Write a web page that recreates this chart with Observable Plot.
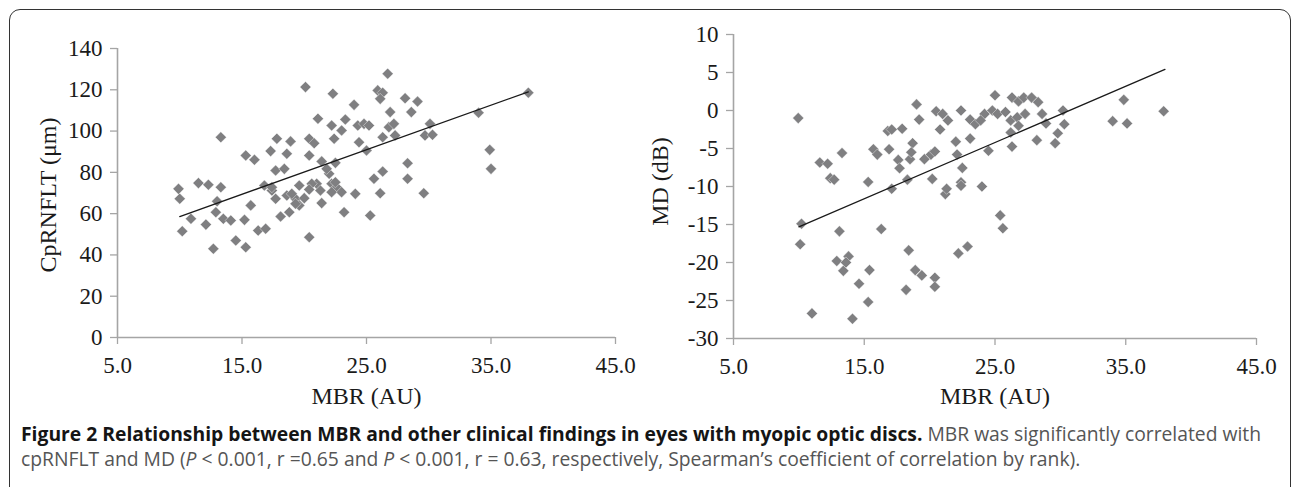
<!DOCTYPE html>
<html><head><meta charset="utf-8">
<script src="https://cdn.jsdelivr.net/npm/d3@7"></script>
<script src="https://cdn.jsdelivr.net/npm/@observablehq/plot@0.6"></script>
<style>
html,body{margin:0;padding:0;background:#fff;}
#wrap{position:relative;width:1292px;height:487px;overflow:hidden;background:#fff;}
#frame{position:absolute;left:9px;top:9px;width:1282px;height:540px;border:1.6px solid #333;border-radius:11px;box-sizing:border-box;}
.chart{position:absolute;top:0;}
#left{left:0;} #right{left:640px;}
.cap{position:absolute;left:21px;white-space:nowrap;font-family:"Liberation Sans Narrow","Open Sans",sans-serif;color:#555;line-height:20px;}
.cap b{color:#151515;font-weight:700;}
#cap1{top:424px;} #cap2{top:449px;}
</style></head>
<body><div id="wrap"><div id="frame"></div><div id="left" class="chart"></div><div id="right" class="chart"></div>
<div id="cap1" class="cap"><b>Figure 2 Relationship between MBR and other clinical findings in eyes with myopic optic discs.</b> MBR was significantly correlated with</div>
<div id="cap2" class="cap">cpRNFLT and MD (<i>P</i> &lt; 0.001, r =0.65 and <i>P</i> &lt; 0.001, r = 0.63, respectively, Spearman’s coefficient of correlation by rank).</div>
</div>
<script>
// MBR (AU) vs CpRNFLT (µm)
const leftPoints = [[9.9,72.0],[10.0,67.2],[10.2,51.5],[10.9,57.5],[11.5,74.8],[12.3,74.0],[13.3,72.8],[12.1,54.7],[12.7,43.0],[13.0,66.0],[12.9,60.7],[13.3,97.0],[13.5,57.5],[14.1,56.7],[14.5,47.0],[15.3,43.7],[15.2,57.0],[15.7,64.0],[15.3,88.2],[16.0,86.1],[16.3,51.8],[16.9,52.7],[16.8,73.6],[17.3,90.3],[17.8,96.3],[17.4,71.2],[17.7,67.2],[17.7,80.9],[18.4,81.7],[18.1,58.6],[18.8,60.7],[18.6,89.0],[18.9,95.0],[18.6,68.8],[19.3,67.2],[19.6,73.6],[19.6,64.0],[20.1,121.3],[20.4,96.3],[20.8,94.1],[20.4,88.2],[20.0,67.5],[20.4,48.6],[21.1,106.0],[21.0,74.5],[21.4,85.3],[21.3,71.2],[21.4,65.1],[22.0,79.3],[22.3,118.1],[22.2,102.7],[22.4,96.3],[22.5,84.6],[22.2,74.5],[22.6,72.8],[23.0,70.4],[23.2,60.7],[23.3,105.6],[23.0,100.3],[24.0,112.7],[24.1,69.6],[24.3,102.7],[24.4,94.6],[24.8,103.5],[25.2,102.7],[25.0,90.6],[25.3,59.1],[25.6,76.9],[26.3,80.4],[26.1,69.9],[25.9,119.7],[26.3,118.6],[26.1,115.6],[26.7,127.8],[26.3,97.0],[26.8,101.9],[26.9,109.2],[27.2,103.5],[27.3,97.9],[28.1,115.9],[28.6,109.2],[29.1,114.3],[28.3,84.4],[28.3,76.9],[29.6,69.9],[29.7,97.9],[30.1,103.5],[30.3,98.2],[34.0,108.9],[34.9,90.9],[35.0,81.7],[38.0,118.6],[21.8,81.7],[22.5,75.2],[20.6,74.5],[20.4,71.7],[19.0,69.6],[19.3,64.8],[17.4,72.8],[22.2,70.4]];
const leftTrend = [[10.0,58.6],[38.0,119.0]];

// MBR (AU) vs MD (dB)
const rightPoints = [[9.95,-1.0],[10.2,-14.9],[10.1,-17.6],[11.0,-26.7],[11.6,-6.85],[12.2,-7.0],[12.4,-8.9],[12.7,-9.1],[13.3,-5.6],[13.1,-15.9],[12.9,-19.8],[13.4,-21.1],[13.8,-19.2],[13.6,-20.0],[14.1,-27.4],[14.6,-22.8],[15.3,-25.2],[15.4,-21.0],[15.3,-9.4],[15.7,-5.1],[16.0,-5.8],[16.3,-15.6],[16.9,-5.1],[16.8,-2.7],[17.1,-2.5],[17.6,-6.5],[17.7,-7.6],[17.9,-2.4],[17.1,-10.3],[18.4,-18.4],[18.2,-23.6],[18.3,-9.1],[19.0,0.8],[19.2,-1.2],[18.7,-4.3],[18.5,-6.4],[18.9,-21.0],[19.4,-21.7],[19.6,-6.4],[20.1,-5.8],[20.4,-5.4],[20.2,-9.0],[20.4,-22.0],[20.4,-23.2],[20.5,-0.1],[21.0,-0.45],[21.4,-1.3],[20.8,-2.5],[21.2,-11.0],[21.3,-10.3],[22.4,0.0],[22.0,-4.1],[22.1,-5.8],[22.4,-9.45],[22.5,-7.55],[22.4,-9.9],[22.2,-18.8],[22.9,-17.9],[23.1,-1.2],[23.1,-3.7],[23.5,-1.8],[24.0,-10.0],[24.2,-0.45],[24.5,-5.3],[24.8,0.0],[25.0,2.0],[25.2,-0.45],[25.4,-13.8],[25.6,-15.5],[25.8,-0.2],[26.2,-1.3],[26.2,-2.9],[26.3,-4.75],[26.3,1.7],[26.8,1.2],[27.2,1.7],[26.7,-0.9],[27.3,-0.45],[26.8,-2.0],[27.8,1.7],[28.3,1.1],[28.2,-3.9],[28.6,-0.45],[28.9,-1.7],[29.6,-4.3],[29.8,-3.0],[30.2,0.0],[30.3,-1.8],[34.0,-1.4],[34.85,1.4],[35.1,-1.7],[37.9,-0.1],[23.9,-1.3],[18.6,-5.5]];
const rightTrend = [[10.0,-15.3],[38.0,5.4]];

const xTicks = [5, 15, 25, 35, 45];
const leftYTicks = [0, 20, 40, 60, 80, 100, 120, 140];
const rightYTicks = [-30, -25, -20, -15, -10, -5, 0, 5, 10];
const xTitle = "MBR (AU)";
const leftYTitle = "CpRNFLT (μm)";
const rightYTitle = "MD (dB)";

const axisGray = "#a5a5a5";
const ink = "#1a1a1a";

function scatter(points, trend, o) {
  return Plot.plot({
    width: o.width, height: 420,
    marginLeft: o.ml, marginRight: o.mr, marginTop: o.mt, marginBottom: o.mb,
    x: {domain: [5, 45]},
    y: {domain: o.yDomain},
    style: {fontFamily: "Liberation Serif", fontSize: "23px", color: ink, background: "transparent", overflow: "visible"},
    marks: [
      Plot.ruleY([o.yDomain[0]], {stroke: axisGray, strokeWidth: 1.6}),
      Plot.ruleX([5], {stroke: axisGray, strokeWidth: 1.6}),
      Plot.axisX({ticks: xTicks, tickFormat: d3.format(".1f"), tickSize: 7, tickPadding: 12, stroke: axisGray, strokeWidth: 1.3, fill: ink, fontSize: 23, label: null}),
      Plot.axisY({ticks: o.yTicks, tickFormat: d => String(d), tickSize: 7, tickPadding: 8, stroke: axisGray, strokeWidth: 1.3, fill: ink, fontSize: 23, label: null}),
      Plot.dot(points, {x: d => d[0], y: d => d[1], symbol: "diamond2", r: 5, fill: "#7f7f81", stroke: "white", strokeWidth: 0.4}),
      Plot.line(trend, {x: d => d[0], y: d => d[1], stroke: ink, strokeWidth: 1.3}),
      Plot.text([xTitle], {text: d => d, frameAnchor: "bottom", textAnchor: "middle", dy: o.xtDy, fontSize: 24, fill: ink}),
      Plot.text([o.yTitle], {text: d => d, frameAnchor: "left", textAnchor: "middle", dx: o.ytDx, dy: o.ytDy, rotate: -90, fontSize: 24, fill: ink})
    ]
  });
}

document.getElementById("left").append(scatter(leftPoints, leftTrend, {
  width: 640, ml: 117, mr: 25, mt: 48, mb: 83, yDomain: [0, 140], yTicks: leftYTicks, yTitle: leftYTitle, xtDy: 66, ytDx: -69, ytDy: 2
}));
document.getElementById("right").append(scatter(rightPoints, rightTrend, {
  width: 652, ml: 93, mr: 36, mt: 34, mb: 82, yDomain: [-30, 10], yTicks: rightYTicks, yTitle: rightYTitle, xtDy: 65, ytDx: -73, ytDy: -5
}));

// fit caption to the reference line width
const c1 = document.getElementById("cap1"), c2 = document.getElementById("cap2");
c1.style.fontSize = "16px";
const w = c1.getBoundingClientRect().width;
const fs = 16 * 1241 / w;
c1.style.fontSize = fs + "px";
c2.style.fontSize = fs + "px";
</script>
</body></html>
